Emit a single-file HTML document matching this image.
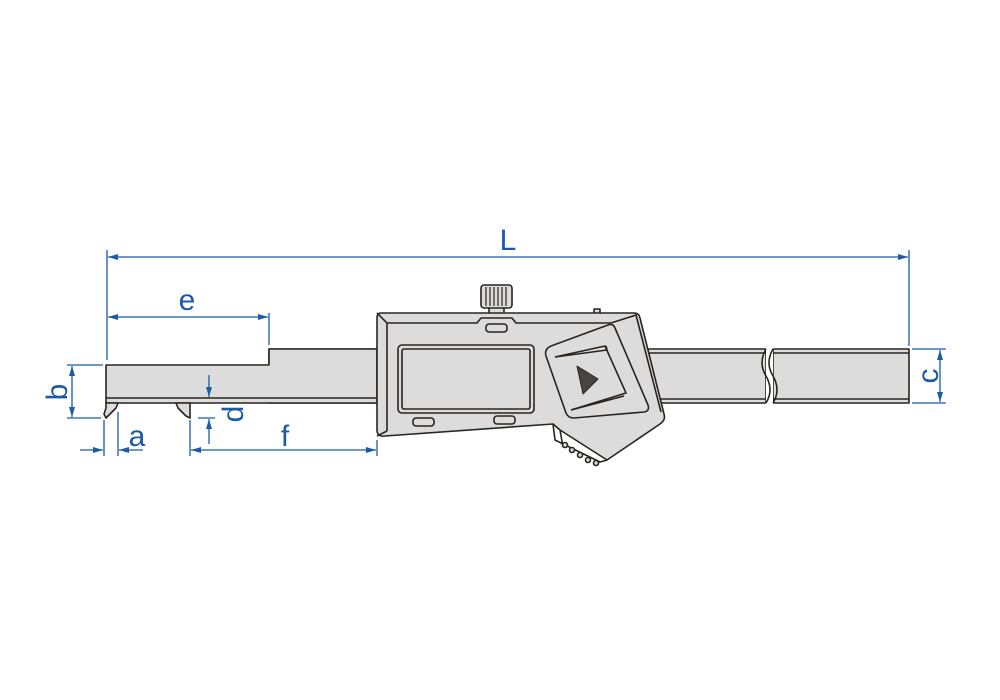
<!DOCTYPE html>
<html><head><meta charset="utf-8"><style>
html,body{margin:0;padding:0;background:#fff;width:1000px;height:700px;overflow:hidden}
text{font-family:"Liberation Sans",Arial,sans-serif;fill:#1b5aa6}
</style></head><body>
<svg width="1000" height="700" viewBox="0 0 1000 700" xmlns="http://www.w3.org/2000/svg">
<defs>
<marker id="ar" viewBox="0 0 10 6" refX="10" refY="3" markerWidth="10" markerHeight="6" orient="auto-start-reverse" markerUnits="userSpaceOnUse">
<path d="M0,0 L10,3 L0,6 z" fill="#1b5aa6"/></marker>
</defs>
<g stroke="#2a2420" stroke-width="1.6" fill="#dcdcdc" stroke-linejoin="round">
<rect x="269" y="349" width="497" height="54"/>
<rect x="773" y="349" width="136" height="54"/>
<line x1="269" y1="353" x2="766" y2="353"/><line x1="269" y1="399" x2="766" y2="399"/>
<line x1="773" y1="353" x2="909" y2="353"/><line x1="773" y1="399" x2="909" y2="399"/>
<rect x="766" y="348" width="7" height="56" fill="#fff" stroke="none"/>
<path d="M766,349 q-8,14 0,27 q8,14 0,27" fill="none"/>
<path d="M773,349 q-8,14 0,27 q8,14 0,27" fill="none"/>
<path d="M106,365 L269,365 L269,349 L377,349 L377,403 L106,403 Z"/>
<line x1="106" y1="398" x2="377" y2="398"/>
<path d="M106,403 L118,403 L116,408 L106,418 L104,414 L106,408 Z"/>
<path d="M176,403 L190,403 L190,418 L186,416 L178,408 Z"/>
<rect x="489" y="306" width="15" height="8"/>
<rect x="481" y="285" width="31" height="23" rx="3"/>
<g fill="none" stroke-width="1.2"><line x1="486" y1="287" x2="486" y2="306"/><line x1="490" y1="287" x2="490" y2="306"/><line x1="494" y1="287" x2="494" y2="306"/><line x1="498" y1="287" x2="498" y2="306"/><line x1="502" y1="287" x2="502" y2="306"/><line x1="506" y1="287" x2="506" y2="306"/></g>
<rect x="594" y="309" width="6" height="5"/>
<path d="M381,313 L634,313 Q639,313 640,318 L664,414 Q666,420 660,424 L607,460 L560,430 L553,424 L385,436 Q377,437 377,430 L377,318 Q377,313 381,313 Z"/>
<path d="M387,323 L477,323 L481,318 L512,318 L516,323 L611,323" fill="none"/>
<path d="M387,323 L387,431 M377,313 L387,323 M377,436 L387,431" fill="none"/>
<path d="M553,424 L555,440 L600,462 L607,460 M560,430 L563,447" fill="none"/>
<rect x="398" y="345" width="136" height="68" rx="4"/>
<rect x="402" y="349" width="128" height="60" rx="2" fill="none"/>
<rect x="486" y="324" width="21" height="8" rx="3"/>
<rect x="413" y="418" width="21" height="8" rx="3"/>
<rect x="494" y="416" width="21" height="8" rx="3"/>
<g fill="#dcdcdc"><circle cx="565" cy="445" r="2.5"/><circle cx="572" cy="450" r="2.5"/><circle cx="580" cy="455" r="2.5"/><circle cx="588" cy="460" r="2.5"/><circle cx="596" cy="463" r="2.5"/></g>
<path d="M611,323 L636,315 L661,412" fill="none"/>
<path d="M551,346 L608,325 Q613,323 615,328 L648,405 Q650,411 644,412 L574,418 Q568,418 566,413 L546,356 Q544,349 551,346 Z"/>
<path d="M555,357 L605,346 L626,393 L571,410" fill="none"/>
<path d="M555,357 L607,350 L606,346 M571,410 L624,396" fill="none"/>
<path d="M577,366 L598,379 L583,394 Z" fill="#4a4441" stroke-width="1"/>
</g>
<g stroke="#1b5aa6" stroke-width="1.3" fill="none">
<line x1="107" y1="250" x2="107" y2="360"/>
<line x1="909" y1="250" x2="909" y2="346"/>
<line x1="108" y1="257" x2="908" y2="257" marker-start="url(#ar)" marker-end="url(#ar)"/>
<line x1="269" y1="313" x2="269" y2="345"/>
<line x1="108" y1="317" x2="268" y2="317" marker-start="url(#ar)" marker-end="url(#ar)"/>
<line x1="67" y1="365" x2="103" y2="365"/><line x1="67" y1="418" x2="101" y2="418"/>
<line x1="72" y1="366" x2="72" y2="417" marker-start="url(#ar)" marker-end="url(#ar)"/>
<line x1="104" y1="420" x2="104" y2="456"/><line x1="118" y1="412" x2="118" y2="456"/>
<line x1="80" y1="450" x2="103" y2="450" marker-end="url(#ar)"/>
<line x1="143" y1="450" x2="119" y2="450" marker-end="url(#ar)"/>
<line x1="190" y1="420" x2="190" y2="456"/><line x1="377" y1="440" x2="377" y2="456"/>
<line x1="191" y1="450" x2="376" y2="450" marker-start="url(#ar)" marker-end="url(#ar)"/>
<line x1="198" y1="418" x2="215" y2="418"/>
<line x1="209" y1="375" x2="209" y2="397" marker-end="url(#ar)"/>
<line x1="209" y1="444" x2="209" y2="419" marker-end="url(#ar)"/>
<line x1="912" y1="349" x2="946" y2="349"/><line x1="912" y1="403" x2="946" y2="403"/>
<line x1="940" y1="350" x2="940" y2="402" marker-start="url(#ar)" marker-end="url(#ar)"/>
</g>
<text x="508" y="250" font-size="30" text-anchor="middle">L</text>
<text x="187" y="310" font-size="30" text-anchor="middle">e</text>
<text x="137" y="446" font-size="30" text-anchor="middle">a</text>
<text x="285" y="446" font-size="30" text-anchor="middle">f</text>
<text transform="translate(67,392) rotate(-90)" font-size="30" text-anchor="middle">b</text>
<text transform="translate(243,414) rotate(-90)" font-size="30" text-anchor="middle">d</text>
<text transform="translate(938,376) rotate(-90)" font-size="30" text-anchor="middle">c</text>
</svg>
</body></html>
